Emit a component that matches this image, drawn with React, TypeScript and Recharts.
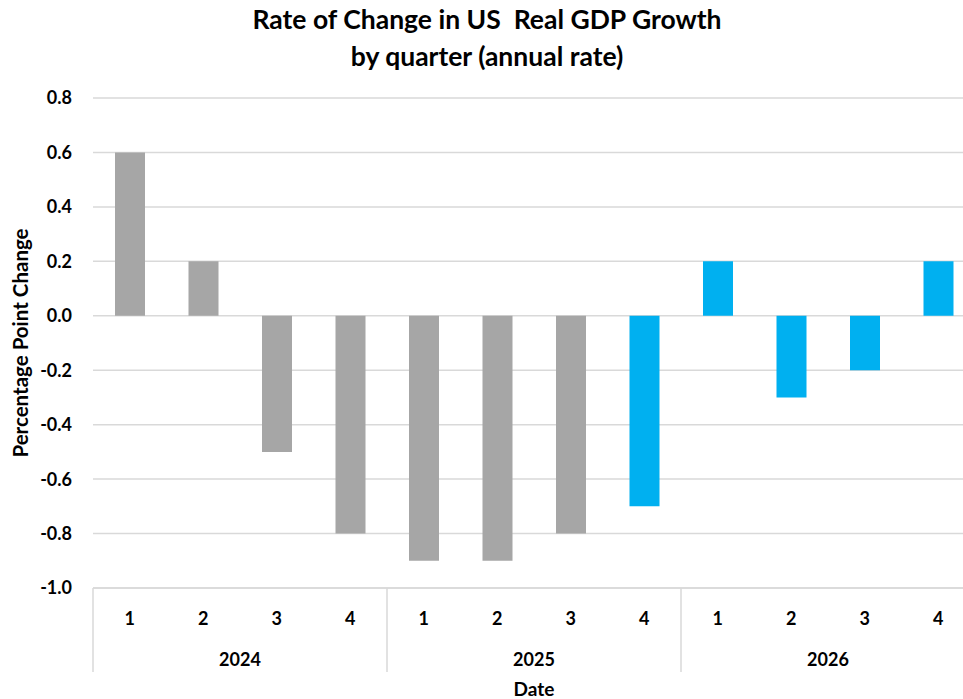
import { BarChart, Bar, XAxis, YAxis, CartesianGrid, Cell } from "recharts"

const years = ["2024", "2025", "2026"]
const quarters = ["1", "2", "3", "4"]
// percentage point change, by year then quarter
const values2024 = [0.6, 0.2, -0.5, -0.8]
const values2025 = [-0.9, -0.9, -0.8, -0.7]
const values2026 = [0.2, -0.3, -0.2, 0.2]
// forecast quarters are drawn in blue
const forecast2024 = [false, false, false, false]
const forecast2025 = [false, false, false, true]
const forecast2026 = [true, true, true, true]
const yTicks = [-1.0, -0.8, -0.6, -0.4, -0.2, 0, 0.2, 0.4, 0.6, 0.8]

const allValues = [values2024, values2025, values2026]
const allForecast = [forecast2024, forecast2025, forecast2026]

const data = years.flatMap((year, yi) =>
  quarters.map((q, qi) => ({
    key: `${year}-${q}`,
    year,
    quarter: q,
    value: allValues[yi][qi],
    forecast: allForecast[yi][qi],
  }))
)

const FONT = "Lato, 'Open Sans', sans-serif"
const CHART_W = 990
const CHART_H = 699
const MARGIN = { top: 98, right: 15, left: 0, bottom: 0 }
const Y_AXIS_W = 93
const X_AXIS_H = 111
const BAND = (CHART_W - Y_AXIS_W - MARGIN.left - MARGIN.right) / data.length

function MultiLevelTick(props: any) {
  const { x, y, index } = props
  const row = data[index]
  if (!row) return null
  return (
    <g>
      <text
        x={x}
        y={y + 30}
        textAnchor="middle"
        dominantBaseline="central"
        fontFamily={FONT}
        fontWeight="bold"
        fontSize={18}
        fill="#000"
      >
        {row.quarter}
      </text>
      {index % 4 === 0 && (
        <line x1={x - BAND / 2} x2={x - BAND / 2} y1={y} y2={y + 84} stroke="#d9d9d9" strokeWidth={1.5} />
      )}
      {index % 4 === 1 && (
        <text
          x={x + BAND / 2}
          y={y + 71}
          textAnchor="middle"
          dominantBaseline="central"
          fontFamily={FONT}
          fontWeight="bold"
          fontSize={18}
          fill="#000"
        >
          {row.year}
        </text>
      )}
    </g>
  )
}

export default function App() {
  return (
    <div style={{ position: "absolute", left: 0, top: 0, width: 963, height: 699, overflow: "hidden", background: "#fff" }}>
      <BarChart width={CHART_W} height={CHART_H} data={data} margin={MARGIN} barSize={30}>
        <text x={487} y={19} textAnchor="middle" dominantBaseline="central" fontFamily={FONT} fontWeight="bold" fontSize={26.5} fill="#000">
          Rate of Change in US&#160; Real GDP Growth
        </text>
        <text x={487} y={56} textAnchor="middle" dominantBaseline="central" fontFamily={FONT} fontWeight="bold" fontSize={26.5} fill="#000">
          by quarter (annual rate)
        </text>
        <CartesianGrid horizontal vertical={false} stroke="#d9d9d9" strokeWidth={1.5} />
        <XAxis
          dataKey="key"
          interval={0}
          height={X_AXIS_H}
          tickSize={0}
          tickMargin={0}
          tickLine={false}
          axisLine={{ stroke: "#d9d9d9", strokeWidth: 1.5 }}
          tick={<MultiLevelTick />}
          label={{
            content: (p: any) => (
              <text
                x={p.viewBox.x + p.viewBox.width / 2}
                y={688}
                textAnchor="middle"
                dominantBaseline="central"
                fontFamily={FONT}
                fontWeight="bold"
                fontSize={19}
                fill="#000"
              >
                Date
              </text>
            ),
          }}
        />
        <YAxis
          width={Y_AXIS_W}
          domain={[-1, 0.8]}
          ticks={yTicks}
          interval={0}
          tickFormatter={(v: number) => v.toFixed(1)}
          tickSize={0}
          tickMargin={21}
          axisLine={false}
          tickLine={false}
          tick={{ fontFamily: FONT, fontWeight: "bold", fontSize: 18, fill: "#000" }}
          label={{
            content: (p: any) => (
              <text
                x={20}
                y={p.viewBox.y + p.viewBox.height / 2}
                transform={`rotate(-90 20 ${p.viewBox.y + p.viewBox.height / 2})`}
                textAnchor="middle"
                dominantBaseline="central"
                fontFamily={FONT}
                fontWeight="bold"
                fontSize={20.5}
                fill="#000"
              >
                Percentage Point Change
              </text>
            ),
          }}
        />
        <Bar dataKey="value" isAnimationActive={false}>
          {data.map((d) => (
            <Cell key={d.key} fill={d.forecast ? "#00b0f0" : "#a6a6a6"} />
          ))}
        </Bar>
      </BarChart>
    </div>
  )
}
